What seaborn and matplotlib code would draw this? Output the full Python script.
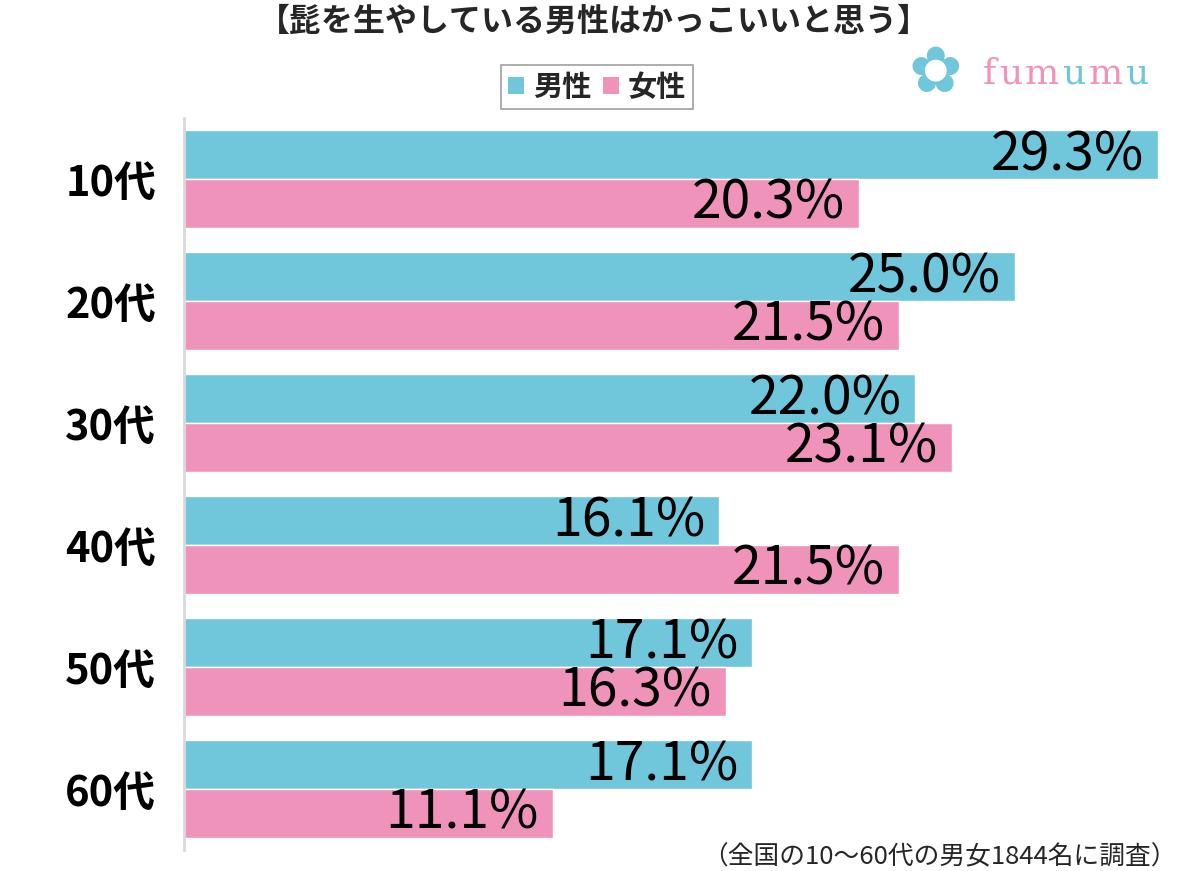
import matplotlib
matplotlib.use("Agg")
import matplotlib.pyplot as plt
import seaborn as sns
import pandas as pd
from matplotlib.patches import Patch
from matplotlib.offsetbox import TextArea, HPacker, AnchoredOffsetbox

ages = ["10代", "20代", "30代", "40代", "50代", "60代"]
male = [29.3, 25.0, 22.0, 16.1, 17.1, 17.1]
female = [20.3, 21.5, 23.1, 21.5, 16.3, 11.1]
series = ["男性", "女性"]
colors = ["#70C6DA", "#F093BB"]
title = "【髭を生やしている男性はかっこいいと思う】"
note = "（全国の10～60代の男女1844名に調査）"

df = pd.DataFrame({
    "age": ages * 2,
    "value": male + female,
    "sex": [series[0]] * len(ages) + [series[1]] * len(ages),
})

sns.set_theme(style="white")
plt.rcParams["font.family"] = ["Noto Sans CJK JP", "DejaVu Sans"]

fig = plt.figure(figsize=(12, 8.71), dpi=100)
ax = fig.add_axes([184 / 1200, 1 - 850 / 871, (1190 - 184) / 1200, (850 - 118) / 871])

sns.barplot(data=df, y="age", x="value", hue="sex", order=ages, hue_order=series,
            palette=colors, orient="h", width=0.8, saturation=1, ax=ax, legend=False)

ax.set_xlim(0, 30.26)
ax.set_ylim(5.5, -0.5)
ax.set_xlabel("")
ax.set_ylabel("")
ax.set_xticks([])
for s in ["top", "right", "bottom"]:
    ax.spines[s].set_visible(False)
ax.spines["left"].set_color("#d9d9d9")
ax.spines["left"].set_linewidth(2)
ax.tick_params(axis="y", length=0, pad=20, labelsize=30)
for lab in ax.get_yticklabels():
    lab.set_fontweight("bold")
    lab.set_color("black")

for cont in ax.containers:
    for bar in cont:
        w = bar.get_width()
        ax.text(w - 0.42, bar.get_y() + bar.get_height() / 2, f"{w:.1f}%",
                ha="right", va="center", fontsize=38.5, color="black")

fig.text(0.495, 1 - 22 / 871, title, ha="center", va="center", fontsize=23, fontweight="bold")

handles = [Patch(facecolor=c, edgecolor="none") for c in colors]
leg = fig.legend(handles, series, loc="center", bbox_to_anchor=(597 / 1200, 1 - 87 / 871),
                 ncol=2, fontsize=21, frameon=True, fancybox=False, handlelength=0.55,
                 handleheight=0.55, handletextpad=0.3, columnspacing=0.4, borderpad=0.25)
leg.get_frame().set_edgecolor("#888888")
leg.get_frame().set_linewidth(1.2)
for t in leg.get_texts():
    t.set_fontweight("bold")

# logo
fig.text(935 / 1200, 1 - 74 / 871, "✿", ha="center", va="center", fontsize=46,
         color="#70C6DA", family=["DejaVu Sans"])
letters = ["f", "u", "m", "u", "m", "u"]
lcols = ["#F093BB", "#F093BB", "#F093BB", "#70C6DA", "#F093BB", "#70C6DA"]
areas = [TextArea(ch, textprops=dict(color=c, fontsize=26, family=["DejaVu Serif"]))
         for ch, c in zip(letters, lcols)]
pack = HPacker(children=areas, align="baseline", pad=0, sep=2)
ab = AnchoredOffsetbox(loc="center left", child=pack, frameon=False, pad=0, borderpad=0,
                       bbox_to_anchor=(983 / 1200, 1 - 74 / 871), bbox_transform=fig.transFigure)
fig.add_artist(ab)

fig.text(1177 / 1200, 1 - 857 / 871, note, ha="right", va="center", fontsize=18.5)

fig.savefig("out.png", dpi=100, facecolor="white")
